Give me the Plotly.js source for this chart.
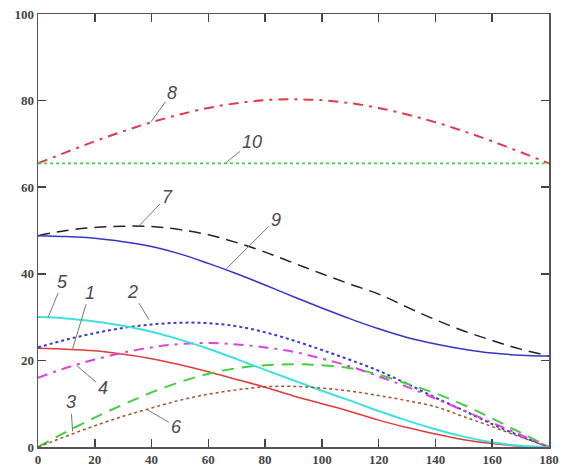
<!DOCTYPE html>
<html>
<head>
<meta charset="utf-8">
<script src="https://cdn.plot.ly/plotly-3.0.1.min.js"></script>
<style>html,body{margin:0;padding:0;background:#fff;overflow:hidden;}#chart{width:561px;height:466px;}</style>
</head>
<body>
<div id="chart"></div>
<script>
const xDeg = [0,10,20,30,40,50,60,70,80,90,100,110,120,130,140,150,160,170,180];
const curve1 = [22.8,22.6,22.2,21.4,20.4,19.0,17.4,15.6,13.8,11.8,10.0,8.2,6.2,4.5,3.0,1.7,0.8,0.2,0];
const curve2 = [23.0,24.8,26.3,27.5,28.3,28.7,28.6,27.9,26.5,24.6,22.4,20.1,17.6,14.6,11.4,8.4,5.3,2.5,0];
const curve3 = [0,3.5,6.8,9.8,12.6,15.0,16.9,18.2,18.9,19.1,18.9,18.2,16.7,14.6,12.4,9.7,6.6,3.3,0];
const curve4 = [16.0,18.3,20.2,21.8,23.0,23.8,24.0,23.7,23.0,22.0,20.4,18.6,16.3,13.9,11.2,8.4,5.6,2.8,0];
const curve5 = [30.0,29.7,29.0,28.0,26.6,24.8,22.7,20.3,17.8,15.4,13.0,10.7,8.3,6.1,4.1,2.4,1.1,0.3,0];
const curve6 = [0,2.5,4.9,7.1,9.0,10.8,12.2,13.2,13.9,14.0,13.6,12.9,11.9,10.7,9.3,7.0,4.7,2.3,0];
const curve7 = [48.8,50.0,50.7,51.0,50.9,50.2,49.0,47.2,45.0,42.5,40.0,37.6,35.3,32.3,29.4,26.8,24.6,22.6,21.0];
const curve8 = [65.5,68.1,70.6,72.9,75.0,76.8,78.3,79.4,80.1,80.3,80.1,79.4,78.3,76.8,75.0,72.9,70.6,68.1,65.5];
const curve9 = [48.8,48.6,48.2,47.4,46.3,44.6,42.4,40.0,37.4,34.7,32.1,29.6,27.3,25.3,23.8,22.6,21.7,21.2,21.0];
const curve10 = [65.5,65.5,65.5,65.5,65.5,65.5,65.5,65.5,65.5,65.5,65.5,65.5,65.5,65.5,65.5,65.5,65.5,65.5,65.5];
const xTicks = [0,20,40,60,80,100,120,140,160,180];
const yTicks = [0,20,40,60,80,100];
const labels = ['1','2','3','4','5','6','7','8','9','10'];
const labelX = [12.2,39.1,12.2,13.6,3.5,38.4,35.6,39.8,66.4,66.1];
const labelY = [22.7,29.4,3.6,18.8,29.9,8.65,51.1,75.1,41.2,65.6];

const series = [
  {y: curve1, color:'#e03a3a', dash:'solid', width:1.5},
  {y: curve2, color:'#3a3ad0', dash:'dot', width:2},
  {y: curve3, color:'#40d040', dash:'12px,8px', width:2},
  {y: curve4, color:'#e040e0', dash:'10px,6px,3px,6px', width:2},
  {y: curve5, color:'#40e0e0', dash:'solid', width:2},
  {y: curve6, color:'#a0522d', dash:'dot', width:1.5},
  {y: curve7, color:'#222222', dash:'12px,7px', width:1.5},
  {y: curve8, color:'#e03a4a', dash:'10px,6px,3px,6px', width:2},
  {y: curve9, color:'#3535c8', dash:'solid', width:1.5},
  {y: curve10, color:'#40d040', dash:'dot', width:1.8}
];
const traces = series.map((s,i)=>({
  x: xDeg, y: s.y, type:'scatter', mode:'lines', name: labels[i],
  line:{color:s.color, dash:s.dash, width:s.width, shape:'spline'},
  hoverinfo:'skip'
}));

const offs = [[17,-56],[-17,-28],[-2,-29],[26,22],[15,-36],[29,17],[28,-29],[21,-29],[49,-49],[26,-21]];
const annotations = labels.map((t,i)=>({
  x: labelX[i], y: labelY[i], xref:'x', yref:'y',
  text:'<i>'+t+'</i>', showarrow:true, arrowhead:0, arrowwidth:1, arrowcolor:'#777',
  ax: offs[i][0], ay: offs[i][1], standoff:0,
  font:{family:'Liberation Sans, Arial, sans-serif', size:18, color:'#4a4a4a'}
}));

const axisCommon = {
  showgrid:false, zeroline:false, showline:true, mirror:'ticks',
  linecolor:'#555', linewidth:1.5, ticks:'inside', ticklen:8, tickwidth:1.5, tickcolor:'#444',
  ticklabeloverflow:'allow',
  tickfont:{family:'Liberation Serif, Times New Roman, serif', size:13, color:'#444', weight:'bold'}
};
const layout = {
  width:561, height:466,
  margin:{l:38, r:12, t:14, b:19},
  paper_bgcolor:'#fff', plot_bgcolor:'#fff',
  showlegend:false,
  xaxis: Object.assign({}, axisCommon, {range:[0,180], tickvals:xTicks, ticktext:xTicks.map(String)}),
  yaxis: Object.assign({}, axisCommon, {range:[0,100], tickvals:yTicks, ticktext:yTicks.map(String)}),
  annotations: annotations
};
Plotly.newPlot('chart', traces, layout, {staticPlot:true, displayModeBar:false});
</script>
</body>
</html>
